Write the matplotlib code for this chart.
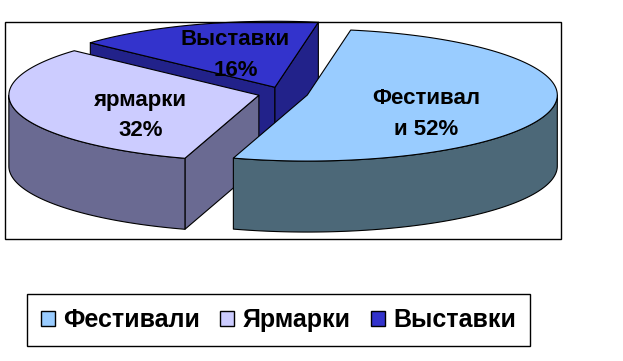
import numpy as np
import matplotlib.pyplot as plt
from matplotlib.patches import Polygon, Rectangle, Patch

plt.rcParams['font.family'] = ['Liberation Sans', 'DejaVu Sans']

# data
categories = ["Фестивали", "Ярмарки", "Выставки"]
values = [52, 32, 16]
slice_labels = ["Фестивал\nи {}%", "ярмарки\n{}%", "Выставки\n{}%"]

top_colors = ["#99CCFF", "#CCCCFF", "#3333CC"]
side_colors = ["#4C6878", "#6A6A92", "#22228A"]

# pie geometry (pixel units of the canvas)
CX, CY = 283, 93.5
RX, RY = 250, 66
DEPTH = 71
EXPLODE = 0.1
START = 80.0  # first slice starts here (deg, math convention) and runs clockwise


def pt(ox, oy, theta, r=1.0, dz=0.0, ry=None):
    t = np.radians(theta)
    ry = r if ry is None else ry
    return ox + RX * r * np.cos(t), oy - RY * ry * np.sin(t) + dz


def main():
    fig = plt.figure(figsize=(6.23, 3.61), dpi=100)
    ax = fig.add_axes([0, 0, 1, 1])
    ax.set_xlim(0, 623)
    ax.set_ylim(361, 0)
    ax.axis('off')

    total = float(sum(values))
    slices = []
    t0 = START
    for i, v in enumerate(values):
        t1 = t0 - v / total * 360.0
        mid = (t0 + t1) / 2
        ox, oy = pt(CX, CY, mid, EXPLODE)
        ts = np.linspace(t1, t0, 300)
        front = np.max(-np.sin(np.radians(ts)))
        slices.append((front, i, t0, t1, mid, ox, oy))
        t0 = t1

    kw = dict(edgecolor='black', linewidth=0.8, joinstyle='round')
    for front, i, t0, t1, mid, ox, oy in sorted(slices):
        # cut faces
        for th, visible in ((t0, np.cos(np.radians(t0)) < 0),
                            (t1, np.cos(np.radians(t1)) > 0)):
            if visible:
                x, y = pt(ox, oy, th)
                face = [(ox, oy), (x, y), (x, y + DEPTH), (ox, oy + DEPTH)]
                ax.add_patch(Polygon(face, closed=True, facecolor=side_colors[i], **kw))
        # outer side, front half only
        for k in range(-2, 3):
            lo = max(t1, -180 + 360 * k)
            hi = min(t0, 360 * k)
            if hi > lo:
                ts = np.linspace(lo, hi, 200)
                xt, yt = pt(ox, oy, ts)
                side = np.column_stack([np.r_[xt, xt[::-1]], np.r_[yt, yt[::-1] + DEPTH]])
                ax.add_patch(Polygon(side, closed=True, facecolor=side_colors[i], **kw))
        # top face
        ts = np.linspace(t0, t1, 300)
        xt, yt = pt(ox, oy, ts)
        top = np.column_stack([np.r_[ox, xt], np.r_[oy, yt]])
        ax.add_patch(Polygon(top, closed=True, facecolor=top_colors[i], **kw))

        lx, ly = pt(ox, oy, mid, 0.49, 9, ry=0.66)
        ax.text(lx, ly, slice_labels[i].format(values[i]), ha='center', va='center',
                fontsize=16, fontweight='bold', linespacing=1.6)

    ax.add_patch(Rectangle((5, 22), 556, 217, fill=False, edgecolor='black', linewidth=1))

    handles = [Patch(facecolor=c, edgecolor='black', linewidth=1) for c in top_colors]
    leg = fig.legend(handles, categories, ncol=3, loc='center',
                     bbox_to_anchor=(27 / 623, 1 - 350 / 361, 503 / 623, 60 / 361),
                     mode='expand', borderaxespad=0, borderpad=0.55,
                     fancybox=False, framealpha=1, edgecolor='black',
                     handlelength=0.55, handleheight=0.55, handletextpad=0.35,
                     prop={'size': 18, 'weight': 'bold'})
    leg.get_frame().set_linewidth(1)

    fig.savefig("out.png", dpi=100)
    plt.close(fig)


if __name__ == "__main__":
    main()
